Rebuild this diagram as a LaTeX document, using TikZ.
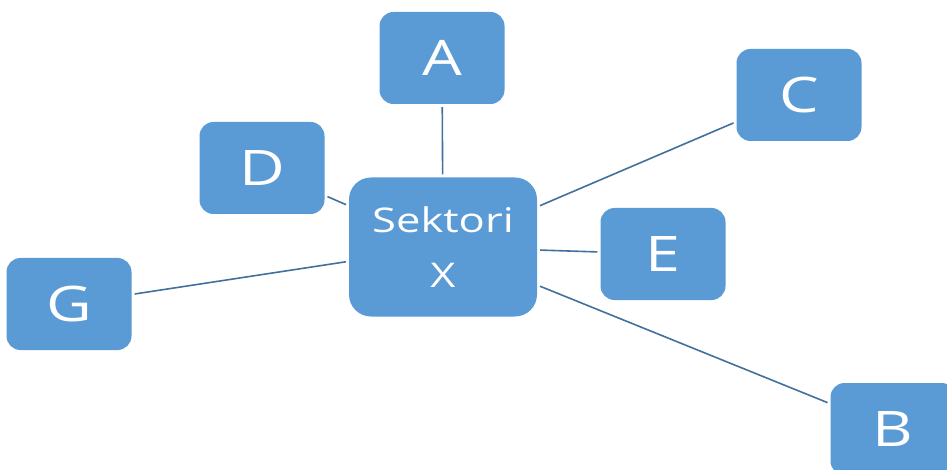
\documentclass[tikz,border=0pt]{standalone}
\usepackage{fontspec}
\newfontfamily\boxfont[FakeStretch=1.28]{Open Sans}
\definecolor{boxblue}{HTML}{5B9BD5}
\definecolor{linkblue}{HTML}{41719C}
\begin{document}
\begin{tikzpicture}[x=1pt, y=-1pt,
  sektor/.style={rectangle, rounded corners=14pt, fill=boxblue, text=white,
    minimum width=125pt, minimum height=92pt, inner sep=0pt,
    font=\boxfont\fontsize{49}{55}\selectfont},
  link/.style={draw=linkblue, line width=1.6pt, shorten >=3pt, shorten <=3pt}]
\clip (0,0) rectangle (947,470);
\fill[white] (0,0) rectangle (947,470);
\node[sektor, minimum width=188pt, minimum height=139pt, rounded corners=22pt, align=center,
  font=\boxfont\fontsize{34}{55}\selectfont] (sx) at (443,247){Sektori\\X};
\node[sektor] (sA) at (442,58){A};
\node[sektor] (sC) at (799,95){C};
\node[sektor] (sD) at (262,168){D};
\node[sektor] (sE) at (663,254){E};
\node[sektor] (sG) at (69,304){G};
\node[sektor] (sB) at (893,429){B};
\draw[link](sA) -- (sx);
\draw[link](sD) -- (sx);
\draw[link](sx) -- (sC);
\draw[link](sx) -- (sE);
\draw[link](sG) -- (sx);
\draw[link](sx) -- (sB);
\end{tikzpicture}
\end{document}
